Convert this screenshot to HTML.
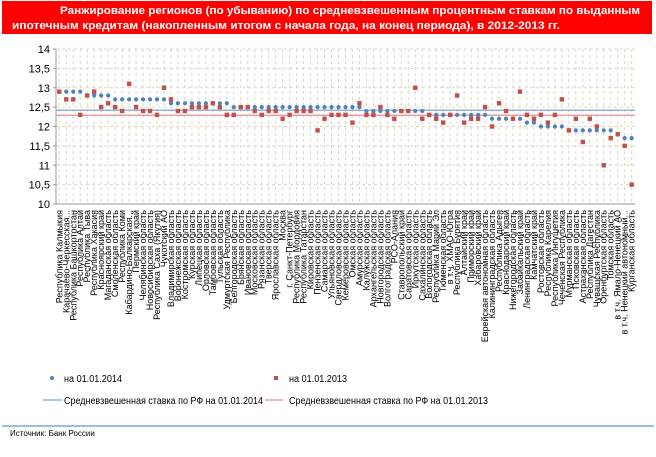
<!DOCTYPE html>
<html><head><meta charset="utf-8"><style>
body{margin:0;background:#fff;width:656px;height:452px;overflow:hidden;font-family:"Liberation Sans",sans-serif}
</style></head><body>
<svg id="chart" width="656" height="452" xmlns="http://www.w3.org/2000/svg" font-family="Liberation Sans, sans-serif">
<rect x="2" y="1" width="650" height="33" fill="#ff0000"/>
<text x="60" y="14" fill="#fff" font-size="11" font-weight="bold" textLength="580" lengthAdjust="spacingAndGlyphs">Ранжирование регионов (по убыванию) по средневзвешенным процентным ставкам по выданным</text>
<text x="12" y="29" fill="#fff" font-size="11" font-weight="bold" textLength="548" lengthAdjust="spacingAndGlyphs">ипотечным кредитам (накопленным итогом с начала года, на конец периода), в 2012-2013 гг.</text>
<g id="grid"></g><g id="axis"></g><g id="labels"></g><g id="marks"></g>
<g font-size="10" fill="#000">
<circle cx="52" cy="378" r="2" fill="#4f81bd"/>
<text x="64" y="382" textLength="58" lengthAdjust="spacingAndGlyphs">на 01.01.2014</text>
<rect x="274" y="376" width="4" height="4" fill="#c0504d"/>
<text x="289" y="382" textLength="58" lengthAdjust="spacingAndGlyphs">на 01.01.2013</text>
<line x1="43" y1="400" x2="62" y2="400" stroke="#95b3d7" stroke-width="1.5"/>
<text x="64" y="404" textLength="199" lengthAdjust="spacingAndGlyphs">Средневзвешенная ставка по РФ на 01.01.2014</text>
<line x1="265" y1="400" x2="283" y2="400" stroke="#e6a0a0" stroke-width="1.5"/>
<text x="289" y="404" textLength="199" lengthAdjust="spacingAndGlyphs">Средневзвешенная ставка по РФ на 01.01.2013</text>
</g>
<line x1="2" y1="426" x2="654" y2="426" stroke="#5b9bd5" stroke-width="1.2"/>
<text x="10" y="436" font-size="8" fill="#000">Источник: Банк России</text>
</svg>
<script>
const regions=["Республика Калмыкия","Карачаево-Черкесская...","Республика Башкортостан","Республика Алтай","Республика Тыва","Республика Хакасия","Красноярский край","Магаданская область","Смоленская область","Республика Коми","Кабардино-Балкарская...","Пермский край","Челябинская область","Новосибирская область","Республика Саха (Якутия)","Чукотский АО","Владимирская область","Воронежская область","Костромская область","Курская область","Липецкая область","Орловская область","Тамбовская область","Тульская область","Удмуртская Республика","Белгородская область","Брянская область","Ивановская область","Московская область","Рязанская область","Тверская область","Ярославская область","Москва","г. Санкт-Петербург","Республика Мордовия","Республика Татарстан","Кировская область","Пензенская область","Самарская область","Ульяновская область","Свердловская область","Кемеровская область","Омская область","Амурская область","Калужская область","Архангельская область","Новгородская область","Волгоградская область","РСО-Алания","Ставропольский край","Саратовская область","Иркутская область","Сахалинская область","Вологодская область","Республика Марий Эл","Тюменская область","в т.ч. ХМАО-Югра","Республика Бурятия","Алтайский край","Приморский край","Хабаровский край","Еврейская автономная область","Калининградская область","Республика Адыгея","Краснодарский край","Нижегородская область","Забайкальский край","Ленинградская область","Камчатский край","Ростовская область","Республика Карелия","Республика Ингушетия","Чеченская Республика","Мурманская область","Псковская область","Астраханская область","Республика Дагестан","Чувашская Республика","Оренбургская область","Томская область","в т.ч. Ямало-Ненецкий АО","в т.ч. Ненецкий автономный...","Курганская область"];
const rates2014=[12.9,12.9,12.9,12.9,12.8,12.8,12.8,12.8,12.7,12.7,12.7,12.7,12.7,12.7,12.7,12.7,12.6,12.6,12.6,12.6,12.6,12.6,12.6,12.6,12.6,12.5,12.5,12.5,12.5,12.5,12.5,12.5,12.5,12.5,12.5,12.5,12.5,12.5,12.5,12.5,12.5,12.5,12.5,12.5,12.4,12.4,12.4,12.4,12.4,12.4,12.4,12.4,12.4,12.3,12.3,12.3,12.3,12.3,12.3,12.3,12.3,12.3,12.2,12.2,12.2,12.2,12.2,12.1,12.1,12.0,12.0,12.0,12.0,11.9,11.9,11.9,11.9,11.9,11.9,11.9,11.8,11.7,11.7];
const rates2013=[12.9,12.7,12.7,12.3,12.8,12.9,12.5,12.6,12.5,12.4,13.1,12.5,12.4,12.4,12.3,13.0,12.7,12.4,12.4,12.5,12.5,12.5,12.6,12.5,12.3,12.3,12.5,12.5,12.4,12.3,12.4,12.4,12.2,12.3,12.4,12.4,12.4,11.9,12.2,12.3,12.3,12.3,12.1,12.6,12.3,12.3,12.5,12.3,12.2,12.4,12.4,13.0,12.2,12.3,12.2,12.1,12.3,12.8,12.1,12.2,12.2,12.5,12.0,12.6,12.4,12.2,12.9,12.3,12.2,12.3,12.1,12.3,12.7,11.9,12.2,11.6,12.2,12.0,11.0,11.7,11.8,11.5,10.5];
const avg2014=12.42, avg2013=12.29;
const yTicks=[10,10.5,11,11.5,12,12.5,13,13.5,14];
const yTickLabels=["10","10,5","11","11,5","12","12,5","13","13,5","14"];
const NS="http://www.w3.org/2000/svg";
const X0=59.3, STEP=6.98, Y10=204, PXU=38.75;
function xs(i){return X0+i*STEP;}
function ys(v){return Y10-(v-10)*PXU;}
function mk(tag,attrs,parent){const e=document.createElementNS(NS,tag);for(const k in attrs)e.setAttribute(k,attrs[k]);parent.appendChild(e);return e;}
const grid=document.getElementById('grid'),axis=document.getElementById('axis'),labels=document.getElementById('labels'),marks=document.getElementById('marks');
const plotR=xs(regions.length-1)+3.5;
yTicks.forEach((t,k)=>{
  if(t>10){const l=mk('line',{x1:56,x2:plotR,y1:ys(t),y2:ys(t),stroke:'#ddd6bb','stroke-dasharray':'3,3','stroke-width':1},grid);
  
  }
  const tk=mk('text',{x:50,y:ys(t)+4,'text-anchor':'end','font-size':11,fill:'#000'},axis);
  tk.textContent=yTickLabels[k];
  
  
  const tm=mk('line',{x1:53,x2:56,y1:ys(t),y2:ys(t),stroke:'#999'},axis);
  
  
});
regions.forEach((r,i)=>{
  const g=mk('line',{x1:xs(i),x2:xs(i),y1:ys(14),y2:Y10,stroke:'#ddd6bb','stroke-dasharray':'3,3','stroke-width':1},grid);
  
  
  const t=mk('text',{transform:`translate(${xs(i)+3},${Y10+6}) rotate(-90)`,'text-anchor':'end','font-size':9,fill:'#000'},labels);
  t.textContent=r;
  
  
});
const ya=mk('line',{x1:56,x2:56,y1:ys(14),y2:Y10,stroke:'#999'},axis);


const xa=mk('line',{x1:56,x2:plotR,y1:Y10,y2:Y10,stroke:'#999'},axis);


const a1=mk('line',{x1:56,x2:plotR,y1:ys(avg2014),y2:ys(avg2014),stroke:'#95b3d7','stroke-width':1.5},marks);


const a2=mk('line',{x1:56,x2:plotR,y1:ys(avg2013),y2:ys(avg2013),stroke:'#e6a0a0','stroke-width':1.5},marks);


rates2014.forEach((v,i)=>{
  const c=mk('circle',{cx:xs(i),cy:ys(v),r:2.1,fill:'#4f81bd'},marks);
  
  
});
rates2013.forEach((v,i)=>{
  const s=mk('rect',{x:xs(i)-2.2,y:ys(v)-2.2,width:4.4,height:4.4,fill:'#c0504d'},marks);
  
  
});
</script>
</body></html>
